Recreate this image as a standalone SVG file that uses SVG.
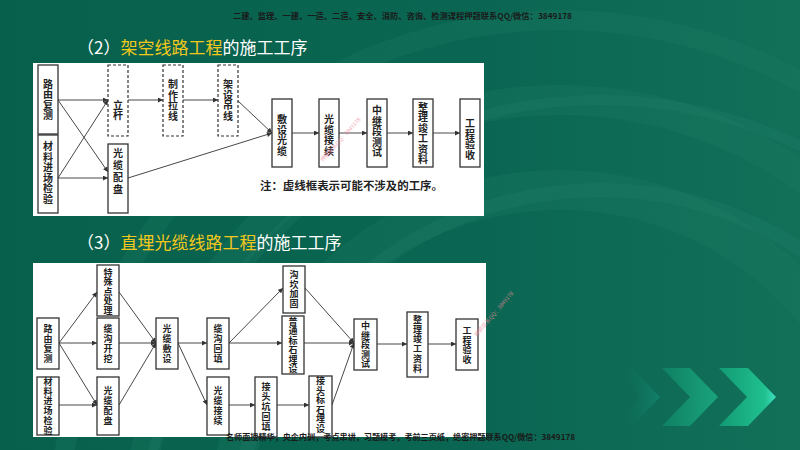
<svg xmlns="http://www.w3.org/2000/svg" width="800" height="450" viewBox="0 0 800 450">
<defs>
<linearGradient id="bg" x1="0" y1="0" x2="1" y2="0">
<stop offset="0" stop-color="#07604b"/>
<stop offset="0.6" stop-color="#0a6652"/>
<stop offset="1" stop-color="#127059"/>
</linearGradient>
<linearGradient id="chev3" x1="0" y1="0" x2="1" y2="0">
<stop offset="0" stop-color="#129a74"/>
<stop offset="0.8" stop-color="#20c08f"/>
<stop offset="1" stop-color="#3fe0c0"/>
</linearGradient>
<linearGradient id="chev2" x1="0" y1="0" x2="1" y2="0">
<stop offset="0" stop-color="#0f8063"/>
<stop offset="1" stop-color="#1aa47d"/>
</linearGradient>
<linearGradient id="chev1" x1="0" y1="0" x2="1" y2="0">
<stop offset="0" stop-color="#0a6650" stop-opacity="0"/>
<stop offset="1" stop-color="#13806a"/>
</linearGradient>
<marker id="ah" viewBox="0 0 10 10" refX="10" refY="5" markerWidth="6" markerHeight="5" markerUnits="userSpaceOnUse" orient="auto">
<path d="M0,0 L10,5 L0,10 z" fill="#333"/>
</marker>
<style>
.box{fill:#fff;stroke:#333;stroke-width:1.3}
.dash{fill:#fff;stroke:#333;stroke-width:1.2;stroke-dasharray:3 2}
.t1{font-family:"Noto Sans CJK SC","Noto Sans CJK TC",sans-serif;font-size:10px;font-weight:bold;fill:#222;text-anchor:middle}
.t2{font-family:"Noto Sans CJK SC","Noto Sans CJK TC",sans-serif;font-size:9px;font-weight:bold;fill:#222;text-anchor:middle}
.con line{stroke:#333;stroke-width:0.9;marker-end:url(#ah)}
.title{font-family:"Noto Sans CJK SC",sans-serif;font-size:17px;fill:#fff}
.hl{fill:#f2c81c}
.wm{font-family:"Noto Sans CJK SC",sans-serif;font-size:8px;fill:#1a1a1a;font-weight:bold}
.pink{font-family:"Noto Sans CJK SC",sans-serif;font-size:5.5px;fill:#f08aa0;opacity:0.7}
</style>
</defs>

<!-- background -->
<rect x="0" y="0" width="800" height="450" fill="url(#bg)"/>
<g fill="none" stroke="#1d7b64" stroke-opacity="0.3">
<circle cx="560" cy="520" r="330" stroke-width="40"/>
<circle cx="560" cy="520" r="420" stroke-width="30"/>
<circle cx="560" cy="520" r="500" stroke-width="20"/>
</g>
<g fill="none" stroke="#2a8a72" stroke-opacity="0.18">
<circle cx="600" cy="560" r="370" stroke-width="14"/>
<circle cx="600" cy="560" r="460" stroke-width="10"/>
</g>

<!-- chevrons -->
<polygon points="613,368 632,368 660,397 632,426 613,426 640,397" fill="url(#chev1)"/>
<polygon points="662,368 690,368 718,397 690,426 662,426 690,397" fill="url(#chev2)"/>
<polygon points="719,368 748,368 776,397 748,426 719,426 747,397" fill="url(#chev3)"/>

<!-- header -->
<text class="wm" x="233" y="19" textLength="339" lengthAdjust="spacingAndGlyphs">二建、监理、一建、一造、二造、安全、消防、咨询、检测课程押题联系QQ/微信：3849178</text>

<!-- titles -->
<text class="title" x="77" y="54">（2）<tspan class="hl">架空线路工程</tspan>的施工工序</text>
<text class="title" x="77" y="249">（3）<tspan class="hl">直埋光缆线路工程</tspan>的施工工序</text>

<!-- panels -->
<rect x="33" y="63" width="451" height="153" fill="#fff"/>
<rect x="33" y="263" width="453" height="174" fill="#fff"/>

<!-- diagram 1 connectors -->
<g id="connectors1" class="con">
<line x1="58" y1="100" x2="108" y2="100"/>
<line x1="58" y1="100" x2="108" y2="172"/>
<line x1="58" y1="178" x2="108" y2="100"/>
<line x1="58" y1="178" x2="108" y2="178"/>
<line x1="128" y1="100" x2="163" y2="100"/>
<line x1="183" y1="100" x2="218" y2="100"/>
<line x1="237" y1="100" x2="272" y2="133"/>
<line x1="128" y1="178" x2="272" y2="133"/>
<line x1="292" y1="133" x2="319" y2="133"/>
<line x1="339" y1="133" x2="367" y2="133"/>
<line x1="386" y1="133" x2="413" y2="133"/>
<line x1="433" y1="133" x2="460" y2="133"/>
</g>

<!-- diagram 1 nodes -->
<g id="d1-luyou"><rect class="box" x="38" y="65" width="20" height="69"/>
<text class="t1" x="48" y="87.5"><tspan x="48">路</tspan><tspan x="48" dy="10.5">由</tspan><tspan x="48" dy="10.5">复</tspan><tspan x="48" dy="10.5">测</tspan></text></g>
<g id="d1-cailiao"><rect class="box" x="38" y="135" width="20" height="78"/>
<text class="t1" x="48" y="150"><tspan x="48">材</tspan><tspan x="48" dy="10.5">料</tspan><tspan x="48" dy="10.5">进</tspan><tspan x="48" dy="10.5">场</tspan><tspan x="48" dy="10.5">检</tspan><tspan x="48" dy="10.5">验</tspan></text></g>
<g id="d1-ligan"><rect class="dash" x="108" y="65" width="20" height="71"/>
<text class="t1" x="118" y="108.8"><tspan x="118">立</tspan><tspan x="118" dy="10.5">杆</tspan></text></g>
<g id="d1-peipan"><rect class="box" x="108" y="144" width="20" height="69"/>
<text class="t1" x="118" y="156.8"><tspan x="118">光</tspan><tspan x="118" dy="12">缆</tspan><tspan x="118" dy="12">配</tspan><tspan x="118" dy="12">盘</tspan></text></g>
<g id="d1-laxian"><rect class="dash" x="163" y="65" width="20" height="71"/>
<text class="t1" x="173" y="88"><tspan x="173">制</tspan><tspan x="173" dy="10.5">作</tspan><tspan x="173" dy="10.5">拉</tspan><tspan x="173" dy="10.5">线</tspan></text></g>
<g id="d1-diaoxian"><rect class="dash" x="218" y="65" width="20" height="71"/>
<text class="t1" x="228" y="88"><tspan x="228">架</tspan><tspan x="228" dy="10.5">设</tspan><tspan x="228" dy="10.5">吊</tspan><tspan x="228" dy="10.5">线</tspan></text></g>
<g id="d1-fushe"><rect class="box" x="272" y="99" width="20" height="68"/>
<text class="t1" x="282" y="123"><tspan x="282">敷</tspan><tspan x="282" dy="10.5">设</tspan><tspan x="282" dy="10.5">光</tspan><tspan x="282" dy="10.5">缆</tspan></text></g>
<g id="d1-jiexu"><rect class="box" x="319" y="99" width="20" height="68"/>
<text class="t1" x="329" y="123"><tspan x="329">光</tspan><tspan x="329" dy="10.5">缆</tspan><tspan x="329" dy="10.5">接</tspan><tspan x="329" dy="10.5">续</tspan></text></g>
<g id="d1-ceshi"><rect class="box" x="367" y="99" width="20" height="68"/>
<text class="t1" x="377" y="114.3"><tspan x="377">中</tspan><tspan x="377" dy="10.5">继</tspan><tspan x="377" dy="10.5">段</tspan><tspan x="377" dy="10.5">测</tspan><tspan x="377" dy="10.5">试</tspan></text></g>
<g id="d1-ziliao"><rect class="box" x="413" y="99" width="20" height="68"/>
<text class="t1" x="423" y="110.5"><tspan x="423">整</tspan><tspan x="423" dy="10.5">理</tspan><tspan x="423" dy="10.5">竣</tspan><tspan x="423" dy="10.5">工</tspan><tspan x="423" dy="10.5">资</tspan><tspan x="423" dy="10.5">料</tspan></text></g>
<g id="d1-yanshou"><rect class="box" x="460" y="99" width="20" height="68"/>
<text class="t1" x="470" y="127"><tspan x="470">工</tspan><tspan x="470" dy="10.5">程</tspan><tspan x="470" dy="10.5">验</tspan><tspan x="470" dy="10.5">收</tspan></text></g>

<text x="260" y="190" font-family="Noto Sans CJK SC, sans-serif" font-size="11" font-weight="bold" fill="#222" textLength="183" lengthAdjust="spacingAndGlyphs">注：虚线框表示可能不涉及的工序。</text>
<text class="pink" transform="translate(323,162) rotate(-48)">押题联系QQ：3849178</text>

<!-- diagram 2 connectors -->
<g id="connectors2" class="con">
<line x1="59" y1="343" x2="97" y2="292"/>
<line x1="59" y1="343" x2="97" y2="343"/>
<line x1="59" y1="343" x2="97" y2="405"/>
<line x1="59" y1="405" x2="97" y2="405"/>
<line x1="119" y1="292" x2="156" y2="343"/>
<line x1="119" y1="343" x2="156" y2="343"/>
<line x1="119" y1="405" x2="156" y2="343"/>
<line x1="178" y1="343" x2="207" y2="343"/>
<line x1="178" y1="343" x2="207" y2="405"/>
<line x1="229" y1="343" x2="283" y2="288"/>
<line x1="229" y1="343" x2="282" y2="343"/>
<line x1="229" y1="405" x2="255" y2="405"/>
<line x1="277" y1="405" x2="309" y2="405"/>
<line x1="305" y1="288" x2="354" y2="343"/>
<line x1="304" y1="343" x2="354" y2="343"/>
<line x1="332" y1="405" x2="354" y2="343"/>
<line x1="377" y1="344" x2="407" y2="344"/>
<line x1="428" y1="344" x2="456" y2="344"/>
</g>

<!-- diagram 2 nodes -->
<g id="d2-luyou"><rect class="box" x="37" y="318" width="22" height="51"/>
<text class="t2" x="48" y="332.3"><tspan x="48">路</tspan><tspan x="48" dy="10">由</tspan><tspan x="48" dy="10">复</tspan><tspan x="48" dy="10">测</tspan></text></g>
<g id="d2-cailiao"><rect class="box" x="37" y="377" width="22" height="58"/>
<text class="t2" x="48" y="385"><tspan x="48">材</tspan><tspan x="48" dy="9.7">料</tspan><tspan x="48" dy="9.7">进</tspan><tspan x="48" dy="9.7">场</tspan><tspan x="48" dy="9.7">检</tspan><tspan x="48" dy="9.7">验</tspan></text></g>
<g id="d2-teshu"><rect class="box" x="97" y="265" width="22" height="51"/>
<text class="t2" x="108" y="275.8"><tspan x="108">特</tspan><tspan x="108" dy="9.5">殊</tspan><tspan x="108" dy="9.5">点</tspan><tspan x="108" dy="9.5">处</tspan><tspan x="108" dy="9.5">理</tspan></text></g>
<g id="d2-kaiwa"><rect class="box" x="97" y="318" width="22" height="51"/>
<text class="t2" x="108" y="332.3"><tspan x="108">缆</tspan><tspan x="108" dy="10">沟</tspan><tspan x="108" dy="10">开</tspan><tspan x="108" dy="10">挖</tspan></text></g>
<g id="d2-peipan"><rect class="box" x="97" y="377" width="22" height="58"/>
<text class="t2" x="108" y="394.3"><tspan x="108">光</tspan><tspan x="108" dy="10">缆</tspan><tspan x="108" dy="10">配</tspan><tspan x="108" dy="10">盘</tspan></text></g>
<g id="d2-fushe"><rect class="box" x="156" y="318" width="22" height="51"/>
<text class="t2" x="167" y="332.3"><tspan x="167">光</tspan><tspan x="167" dy="10">缆</tspan><tspan x="167" dy="10">敷</tspan><tspan x="167" dy="10">设</tspan></text></g>
<g id="d2-huitian"><rect class="box" x="207" y="318" width="22" height="51"/>
<text class="t2" x="218" y="332.3"><tspan x="218">缆</tspan><tspan x="218" dy="10">沟</tspan><tspan x="218" dy="10">回</tspan><tspan x="218" dy="10">填</tspan></text></g>
<g id="d2-jiexu"><rect class="box" x="207" y="377" width="22" height="58"/>
<text class="t2" x="218" y="394.3"><tspan x="218">光</tspan><tspan x="218" dy="10">缆</tspan><tspan x="218" dy="10">接</tspan><tspan x="218" dy="10">续</tspan></text></g>
<g id="d2-jiagu"><rect class="box" x="283" y="266" width="22" height="47"/>
<text class="t2" x="294" y="278"><tspan x="294">沟</tspan><tspan x="294" dy="9.5">坎</tspan><tspan x="294" dy="9.5">加</tspan><tspan x="294" dy="9.5">固</tspan></text></g>
<g id="d2-biaoshi"><rect class="box" x="282" y="316" width="22" height="58"/>
<text class="t2" x="293" y="324.5"><tspan x="293">普</tspan><tspan x="293" dy="9.5">通</tspan><tspan x="293" dy="9.5">标</tspan><tspan x="293" dy="9.5">石</tspan><tspan x="293" dy="9.5">埋</tspan><tspan x="293" dy="9.5">设</tspan></text></g>
<g id="d2-jietoukeng"><rect class="box" x="255" y="377" width="22" height="60"/>
<text class="t2" x="266" y="390.3"><tspan x="266">接</tspan><tspan x="266" dy="10">头</tspan><tspan x="266" dy="10">坑</tspan><tspan x="266" dy="10">回</tspan><tspan x="266" dy="10">填</tspan></text></g>
<g id="d2-jietoubiaoshi"><rect class="box" x="309" y="376" width="23" height="61"/>
<text class="t2" x="320.5" y="384"><tspan x="320.5">接</tspan><tspan x="320.5" dy="9.5">头</tspan><tspan x="320.5" dy="9.5">标</tspan><tspan x="320.5" dy="9.5">石</tspan><tspan x="320.5" dy="9.5">埋</tspan><tspan x="320.5" dy="9.5">设</tspan></text></g>
<g id="d2-ceshi"><rect class="box" x="354" y="319" width="23" height="51"/>
<text class="t2" x="365.5" y="329.3"><tspan x="365.5">中</tspan><tspan x="365.5" dy="9.5">继</tspan><tspan x="365.5" dy="9.5">段</tspan><tspan x="365.5" dy="9.5">测</tspan><tspan x="365.5" dy="9.5">试</tspan></text></g>
<g id="d2-ziliao"><rect class="box" x="407" y="312" width="21" height="65"/>
<text class="t2" x="417.5" y="323"><tspan x="417.5">整</tspan><tspan x="417.5" dy="9.7">理</tspan><tspan x="417.5" dy="9.7">竣</tspan><tspan x="417.5" dy="9.7">工</tspan><tspan x="417.5" dy="9.7">资</tspan><tspan x="417.5" dy="9.7">料</tspan></text></g>
<g id="d2-yanshou"><rect class="box" x="456" y="319" width="22" height="51"/>
<text class="t2" x="467" y="334"><tspan x="467">工</tspan><tspan x="467" dy="9.5">程</tspan><tspan x="467" dy="9.5">验</tspan><tspan x="467" dy="9.5">收</tspan></text></g>

<text class="pink" transform="translate(477,337) rotate(-50)">押题联系QQ：3849178</text>

<!-- footer -->
<text class="wm" x="226" y="440" textLength="349" lengthAdjust="spacingAndGlyphs">名师面授精华，央企内训，考点串讲，习题模考，考前三页纸，绝密押题联系QQ/微信：3849178</text>
</svg>
